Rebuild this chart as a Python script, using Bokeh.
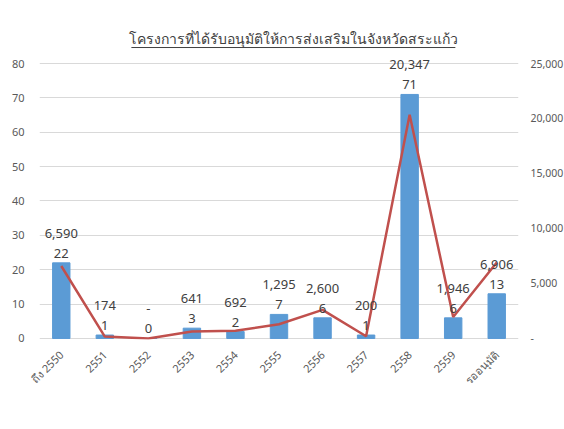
import math
from bokeh.plotting import figure
from bokeh.models import (ColumnDataSource, FixedTicker, LinearAxis, Range1d,
                          LabelSet, Label, Legend, LegendItem, NumeralTickFormatter)
from bokeh.core.properties import value
from bokeh.embed import file_html
from bokeh.resources import INLINE

# ---- data ----
categories = ["ถึง 2550", "2551", "2552", "2553", "2554", "2555", "2556",
              "2557", "2558", "2559", "รออนุมัติ"]
project_counts = [22, 1, 0, 3, 2, 7, 6, 1, 71, 6, 13]
project_values = [6590, 174, 0, 641, 692, 1295, 2600, 200, 20347, 1946, 6906]
left_ticks = [0, 10, 20, 30, 40, 50, 60, 70, 80]
right_ticks = [0, 5000, 10000, 15000, 20000, 25000]
title_text = "โครงการที่ได้รับอนุมัติให้การส่งเสริมในจังหวัดสระแก้ว"
bar_label = "จำนวนโครงการที่ได้รับอนุมัติ"
line_label = "มูลค่า"

FONT = "Noto Sans"
TICK_COLOR = "#595959"
LABEL_COLOR = "#404040"
BAR_COLOR = "#5b9bd5"
LINE_COLOR = "#c0504d"

idx = list(range(len(categories)))
y_top = 91.93
y_bot = -0.3
scale = right_ticks[-1] / left_ticks[-1]

src = ColumnDataSource(dict(
    x=idx,
    count=project_counts,
    value=project_values,
    count_txt=[str(c) for c in project_counts],
    value_txt=[f"{v:,}" if v else "-" for v in project_values],
))

p = figure(frame_width=479, frame_height=317, output_backend="svg",
           toolbar_location=None,
           x_range=Range1d(-0.5, len(categories) - 0.5),
           y_range=Range1d(y_bot, y_top),
           min_border_left=39, min_border_right=46, min_border_top=22,
           min_border_bottom=0, outline_line_color=None,
           background_fill_color="white", border_fill_color="white")
p.extra_y_ranges = {"val": Range1d(y_bot * scale, y_top * scale)}

bars = p.vbar(x="x", top="count", width=0.4, source=src, color=BAR_COLOR)
line = p.line(x="x", y="value", y_range_name="val", source=src,
              line_color=LINE_COLOR, line_width=2.5)

# axes
p.yaxis.ticker = FixedTicker(ticks=left_ticks)
ax_r = LinearAxis(y_range_name="val", ticker=FixedTicker(ticks=right_ticks),
                  formatter=NumeralTickFormatter(format="0,0"))
ax_r.major_label_overrides = {0: "-"}
p.add_layout(ax_r, "right")

p.xaxis.ticker = FixedTicker(ticks=idx)
p.xaxis.major_label_overrides = {i: c for i, c in zip(idx, categories)}
p.xaxis.major_label_orientation = math.pi / 4

for ax in [p.yaxis[0], ax_r, p.xaxis[0]]:
    ax.axis_line_color = None
    ax.major_tick_line_color = None
    ax.minor_tick_line_color = None
    ax.major_label_text_font = FONT
    ax.major_label_text_font_size = "11px"
    ax.major_label_text_color = TICK_COLOR
    ax.major_label_standoff = 9
ax_r.major_label_standoff = 6
ax_r.major_label_text_font_size = "10.5px"
p.xaxis.major_label_standoff = 7

p.xgrid.grid_line_color = None
p.ygrid.ticker = FixedTicker(ticks=left_ticks)
p.ygrid.grid_line_color = "#d9d9d9"

# data labels
count_labels = LabelSet(x="x", y="count", text="count_txt", source=src,
                        text_align="center", text_baseline="bottom", y_offset=5,
                        text_font=value(FONT), text_font_size="13px",
                        text_color=LABEL_COLOR)
value_labels = LabelSet(x="x", y="count", text="value_txt", source=src,
                        text_align="center", text_baseline="bottom", y_offset=25,
                        text_font=value(FONT), text_font_size="13px",
                        text_color=LABEL_COLOR)
p.add_layout(count_labels)
p.add_layout(value_labels)

# title (inside the top of the frame) with underline
p.add_layout(Label(x=5.33, y=87.27, text=title_text, text_align="center",
                   text_baseline="middle", text_font=FONT, text_font_size="14px",
                   text_color=LABEL_COLOR))
p.segment(x0=[1.61], y0=[84.65], x1=[9.05], y1=[84.65],
          line_color=LABEL_COLOR, line_width=1)

# legend in the panel under the x axis
legend = Legend(items=[LegendItem(label=bar_label, renderers=[bars]),
                       LegendItem(label=line_label, renderers=[line])],
                orientation="horizontal", location="top_center",
                label_text_font=FONT, label_text_font_size="12px",
                label_text_color=TICK_COLOR, glyph_width=16, glyph_height=12,
                label_standoff=3, spacing=14, border_line_color=None,
                background_fill_alpha=0, padding=2, margin=2)
p.add_layout(legend, "below")

open("out.html", "w").write(file_html(p, INLINE))
